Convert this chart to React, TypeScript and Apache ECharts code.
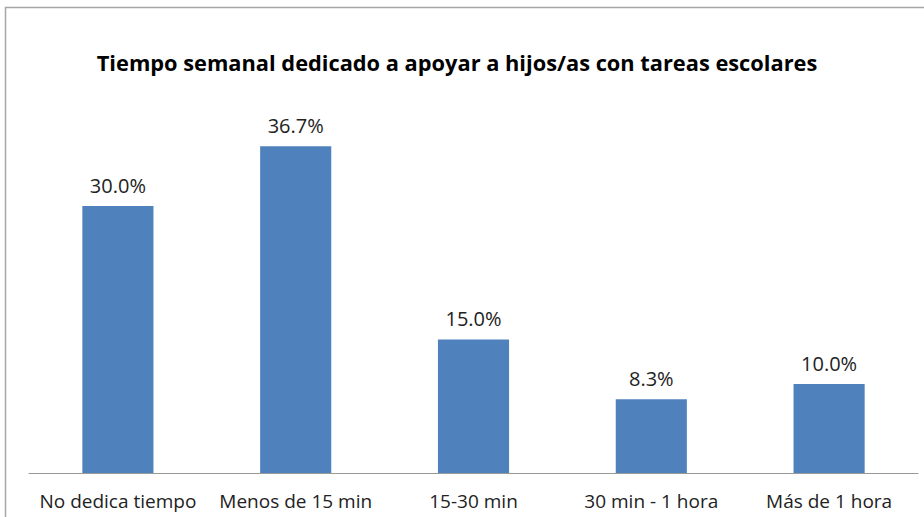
import React, { useEffect, useRef } from "react";
import * as echarts from "echarts";

const title = "Tiempo semanal dedicado a apoyar a hijos/as con tareas escolares";
const categories = ["No dedica tiempo", "Menos de 15 min", "15-30 min", "30 min - 1 hora", "Más de 1 hora"];
const values = [30.0, 36.7, 15.0, 8.3, 10.0];

export default function App() {
  const ref = useRef<HTMLDivElement>(null);
  useEffect(() => {
    if (!ref.current) return;
    const chart = echarts.init(ref.current, null, { renderer: "svg" });
    chart.setOption({
      animation: false,
      backgroundColor: "#ffffff",
      title: {
        text: title,
        left: 452,
        textAlign: "center",
        top: 46,
        textStyle: { fontFamily: "Open Sans", fontWeight: "bold", fontSize: 21.8, color: "#000" },
      },
      graphic: [
        {
          type: "rect",
          shape: { x: 5.5, y: 7.5, width: 940, height: 530 },
          style: { fill: "none", stroke: "#a6a6a6", lineWidth: 1.5 },
          silent: true,
        },
      ],
      grid: { left: 29, right: 6, top: 117, bottom: 44, containLabel: false },
      xAxis: {
        type: "category",
        data: categories,
        axisLine: { lineStyle: { color: "#999", width: 1 } },
        axisTick: { show: false },
        axisLabel: { fontFamily: "Open Sans", fontSize: 19, color: "#222", margin: 18, interval: 0 },
      },
      yAxis: {
        type: "value",
        min: 0,
        max: 40,
        show: false,
        splitLine: { show: false },
      },
      series: [
        {
          type: "bar",
          data: values,
          barWidth: "40%",
          itemStyle: { color: "#4f81bd" },
          label: {
            show: true,
            position: "top",
            distance: 11,
            formatter: (p: any) => p.value.toFixed(1) + "%",
            fontFamily: "Open Sans",
            fontSize: 20,
            color: "#222",
          },
        },
      ],
    });
    return () => chart.dispose();
  }, []);
  return <div ref={ref} style={{ position: "fixed", left: 0, top: 0, width: 924, height: 517 }} />;
}
